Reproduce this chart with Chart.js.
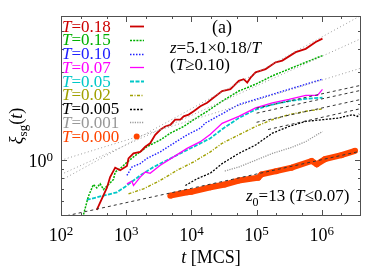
<!DOCTYPE html>
<html>
<head>
<meta charset="utf-8">
<script src="https://cdn.jsdelivr.net/npm/chart.js@4.4.1/dist/chart.umd.min.js"></script>
<style>
html, body { margin: 0; padding: 0; background: #fff; }
</style>
</head>
<body>
<canvas id="myChart" width="382" height="267"></canvas>
<script>
// temperatures shown in the legend, top to bottom
const tempLabels = ['0.18', '0.15', '0.10', '0.07', '0.05', '0.02', '0.005', '0.001', '0.000'];

// xi_sg(t) curves, [t (MCS), xi]
const T018 = [[354, 0.54], [505, 0.709], [567, 0.811], [678, 0.912], [809, 0.882], [1026, 0.93], [1085, 1.022], [1295, 1.088], [1642, 1.110], [1960, 1.182], [2330, 1.234], [2790, 1.370], [3335, 1.459], [3970, 1.521], [4750, 1.55], [5640, 1.654], [6775, 1.654], [7620, 1.724], [9090, 1.762], [10850, 1.836], [13750, 1.956], [17450, 2.041], [21800, 2.174], [29650, 2.362], [39800, 2.42], [53400, 2.679], [63500, 2.736], [71900, 2.625], [80900, 2.79], [96600, 2.977], [137500, 3.103], [196000, 3.376], [248000, 3.45], [398000, 3.829], [567000, 3.99], [808000, 4.34], [1026000, 4.527]];
const T015 = [[215, 0.49], [263, 0.638], [314, 0.739], [354, 0.709], [398, 0.746], [448, 0.695], [535, 0.739], [638, 0.787], [678, 0.863], [859, 0.919], [1026, 0.975], [1295, 1.042], [1642, 1.110], [2080, 1.182], [2630, 1.234], [3335, 1.286], [4750, 1.399], [7620, 1.521], [10850, 1.654], [17450, 1.836], [29650, 2.083], [53400, 2.362], [96600, 2.569], [174600, 2.853], [314000, 3.103], [567000, 3.376], [1026000, 3.668]];
const T010 = [[1026, 0.828], [1224, 0.919], [1642, 0.959], [2080, 1.022], [2630, 1.065], [3335, 1.110], [5345, 1.234], [8590, 1.370], [13750, 1.490], [16400, 1.587], [29650, 1.78], [53400, 1.998], [96600, 2.128], [174600, 2.266], [314000, 2.413], [567000, 2.569], [1026000, 2.736]];
const T007 = [[1026, 0.746], [1224, 0.77], [1295, 0.730], [1642, 0.811], [1960, 0.863], [2330, 0.85], [3335, 0.939], [5345, 1.042], [8590, 1.159], [13750, 1.259], [19600, 1.38], [29650, 1.58], [53400, 1.724], [96600, 1.916], [174600, 2.041], [314000, 2.128], [567000, 2.238], [859000, 2.238], [1026000, 2.413]];
const T005 = [[248, 0.61], [448, 0.644], [719, 0.671], [1026, 0.730], [1642, 0.828], [2630, 0.919], [4225, 1.0], [6775, 1.088], [10850, 1.182], [19600, 1.314], [29650, 1.47], [53400, 1.690], [96600, 1.876], [174600, 1.998], [314000, 2.083], [567000, 2.146], [1026000, 2.174]];
const T002 = [[1085, 0.658], [1845, 0.701], [3335, 0.778], [6025, 0.882], [10850, 0.979], [19600, 1.110], [29650, 1.234], [53400, 1.370], [96600, 1.521], [174600, 1.654], [314000, 1.762], [567000, 1.836], [1026000, 1.892]];
const T0005 = [[8090, 0.730], [12240, 0.794], [19600, 0.852], [29650, 0.959], [53400, 1.088], [96600, 1.208], [174600, 1.399], [314000, 1.521], [567000, 1.620], [1026000, 1.654], [1845000, 1.690], [2960000, 1.762], [3540000, 1.724], [3750000, 1.777]];
const T0001 = [[32500, 0.874], [53400, 0.919], [106000, 1.013], [174600, 1.088], [345000, 1.173], [567000, 1.259], [889000, 1.387], [1026000, 1.428]];
const T0000 = [[4750, 0.644], [8600, 0.671], [10000, 0.675], [19600, 0.715], [32500, 0.739], [53400, 0.777], [106000, 0.804], [119000, 0.838], [200000, 0.873], [345000, 0.912], [700000, 0.991], [840000, 0.951], [1120000, 1.013], [2000000, 1.065], [3240000, 1.124]];

// power-law guides: dotted z=5.1*0.18/T, dashed z0=13
const fit018 = [[100, 0.778], [4e6, 6.04]];
const fit015 = [[100, 0.838], [4e6, 4.53]];
const fit010 = [[100, 1.0], [4e6, 3.14]];
const fit007 = [[1e5, 1.91], [4e6, 2.537]];
const fit005 = [[1e5, 1.794], [4e6, 2.383]];
const fit002 = [[1e5, 1.602], [4e6, 2.128]];
const fit0005 = [[1.5e5, 1.464], [4e6, 1.90]];
const fit0000 = [[100, 0.494], [4e6, 1.12]];

// axis ticks
const xMajor = [1e2, 1e3, 1e4, 1e5, 1e6];
const xMinor = [200, 500, 2000, 5000, 2e4, 5e4, 2e5, 5e5, 2e6];
const yMajor = [1];
const yMinor = [0.6, 0.7, 0.8, 0.9, 2, 3, 4, 5];
const xLabelExp = ['2', '3', '4', '5', '6'];
const yLabelExp = ['0'];

const FONT = '"Liberation Serif", "DejaVu Serif", serif';
const frameColor = '#505050';

// one entry per temperature: color, dash, width
const styles = [
    { color: '#cc0000', dash: [], width: 1.8 },
    { color: '#00b000', dash: [2, 1.2], width: 1.5 },
    { color: '#2020ff', dash: [1.5, 1.5], width: 1.4 },
    { color: '#ff00ff', dash: [], width: 1.3 },
    { color: '#00c8c8', dash: [4, 1.5], width: 1.8 },
    { color: '#a0a000', dash: [3, 1.5, 1, 1.5], width: 1.4 },
    { color: '#000000', dash: [2, 1.5], width: 1.3 },
    { color: '#999999', dash: [1.2, 1.2], width: 1.3 },
    { color: '#ff4500', dash: [], width: 6 }
];
const series = [T018, T015, T010, T007, T005, T002, T0005, T0001, T0000];

const toXY = arr => arr.map(p => ({ x: p[0], y: p[1] }));

const datasets = [];
[fit018, fit015, fit010].forEach(f => datasets.push({
    data: toXY(f), borderColor: '#9a9a9a', borderWidth: 1, borderDash: [1, 2.5],
    pointRadius: 0, showLine: true, order: 0
}));
[fit007, fit005, fit002, fit0005, fit0000].forEach(f => datasets.push({
    data: toXY(f), borderColor: '#333333', borderWidth: 1, borderDash: [3, 3],
    pointRadius: 0, showLine: true, order: 0
}));
series.forEach((s, i) => {
    const st = styles[i];
    const isDots = i === series.length - 1;
    datasets.push({
        data: toXY(s), borderColor: st.color, borderWidth: st.width, borderDash: st.dash,
        pointRadius: isDots ? 3 : 0, pointBackgroundColor: st.color, pointBorderWidth: 0,
        showLine: true, order: 1 + i
    });
});

// text with italic / sub / sup pieces
function drawRich(ctx, parts, x, y, size, align, color) {
    const fontFor = p => {
        const s = (p.s === 'sub' || p.s === 'sup') ? Math.round(size * 0.7) : size;
        return (p.i ? 'italic ' : '') + s + 'px ' + FONT;
    };
    let w = 0;
    parts.forEach(p => { ctx.font = fontFor(p); p.w = ctx.measureText(p.t).width; w += p.w; });
    let cx = align === 'center' ? x - w / 2 : align === 'right' ? x - w : x;
    ctx.textAlign = 'left';
    ctx.textBaseline = 'alphabetic';
    ctx.fillStyle = color || '#000';
    parts.forEach(p => {
        ctx.font = fontFor(p);
        const dy = p.s === 'sub' ? size * 0.28 : p.s === 'sup' ? -size * 0.36 : 0;
        ctx.fillText(p.t, cx, y + dy);
        cx += p.w;
    });
}

const framePlugin = {
    id: 'frame',
    afterDatasetsDraw(chart) {
        const ctx = chart.ctx;
        const { left, right, top, bottom } = chart.chartArea;
        const xs = chart.scales.x, ys = chart.scales.y;
        ctx.save();
        ctx.setLineDash([]);
        ctx.strokeStyle = frameColor;
        ctx.lineWidth = 1;
        ctx.strokeRect(left + 0.5, top + 0.5, right - left - 1, bottom - top - 1);

        const tick = (v, len, horiz) => {
            ctx.beginPath();
            if (horiz) {
                const px = Math.round(xs.getPixelForValue(v)) + 0.5;
                ctx.moveTo(px, bottom); ctx.lineTo(px, bottom - len);
                ctx.moveTo(px, top); ctx.lineTo(px, top + len);
            } else {
                const py = Math.round(ys.getPixelForValue(v)) + 0.5;
                ctx.moveTo(left, py); ctx.lineTo(left + len, py);
                ctx.moveTo(right, py); ctx.lineTo(right - len, py);
            }
            ctx.stroke();
        };
        xMajor.forEach(v => tick(v, 6, true));
        xMinor.forEach(v => tick(v, 3, true));
        yMajor.forEach(v => tick(v, 6, false));
        yMinor.forEach(v => tick(v, 3, false));

        // tick labels
        xMajor.forEach((v, i) => {
            drawRich(ctx, [{ t: '10' }, { t: xLabelExp[i], s: 'sup' }], xs.getPixelForValue(v), 241, 18, 'center');
        });
        yMajor.forEach((v, i) => {
            drawRich(ctx, [{ t: '10' }, { t: yLabelExp[i], s: 'sup' }], left - 8, ys.getPixelForValue(v) + 7, 18, 'right');
        });

        // axis titles
        drawRich(ctx, [{ t: 't', i: true }, { t: ' [MCS]' }], (left + right) / 2, 263, 18, 'center');
        ctx.save();
        ctx.translate(22, 126);
        ctx.rotate(-Math.PI / 2);
        drawRich(ctx, [{ t: 'ξ', i: true }, { t: 'sg', s: 'sub' }, { t: '(' }, { t: 't', i: true }, { t: ')' }], 0, 0, 18, 'center');
        ctx.restore();

        // legend
        tempLabels.forEach((lab, i) => {
            const base = 31.7 + i * 13.75;
            const st = styles[i];
            drawRich(ctx, [{ t: 'T', i: true }, { t: '=' + lab }], 62, base, 17, 'left', st.color);
            const ly = Math.round(base - 5.5) + 0.5;
            if (i === tempLabels.length - 1) {
                ctx.fillStyle = st.color;
                ctx.beginPath();
                ctx.arc(136.7, ly, 3, 0, Math.PI * 2);
                ctx.fill();
            } else {
                ctx.strokeStyle = st.color;
                ctx.lineWidth = Math.min(st.width, 2);
                ctx.setLineDash(st.dash);
                ctx.beginPath();
                ctx.moveTo(130, ly); ctx.lineTo(144, ly);
                ctx.stroke();
                ctx.setLineDash([]);
            }
        });

        // annotations
        drawRich(ctx, [{ t: '(a)' }], 222, 33, 18, 'center');
        drawRich(ctx, [{ t: 'z', i: true }, { t: '=5.1×0.18/' }, { t: 'T', i: true }], 170, 53, 17, 'left');
        drawRich(ctx, [{ t: '(' }, { t: 'T', i: true }, { t: '≥0.10)' }], 170, 70, 17, 'left');
        drawRich(ctx, [{ t: 'z', i: true }, { t: '0', s: 'sub' }, { t: '=13 (' }, { t: 'T', i: true }, { t: '≤0.07)' }], 246, 201, 17, 'left');
        ctx.restore();
    }
};

const ctx = document.getElementById('myChart').getContext('2d');
new Chart(ctx, {
    type: 'scatter',
    data: { datasets: datasets },
    options: {
        responsive: false,
        animation: false,
        devicePixelRatio: 1,
        layout: { padding: { top: 16, right: 21, left: 0, bottom: 0 } },
        plugins: { legend: { display: false }, tooltip: { enabled: false } },
        scales: {
            x: {
                type: 'logarithmic', min: 100, max: 4e6,
                grid: { display: false }, border: { display: false },
                ticks: { display: false },
                afterFit: s => { s.height = 51; }
            },
            y: {
                type: 'logarithmic', min: 0.5, max: 6,
                grid: { display: false }, border: { display: false },
                ticks: { display: false },
                afterFit: s => { s.width = 61; }
            }
        }
    },
    plugins: [framePlugin]
});
</script>
</body>
</html>
